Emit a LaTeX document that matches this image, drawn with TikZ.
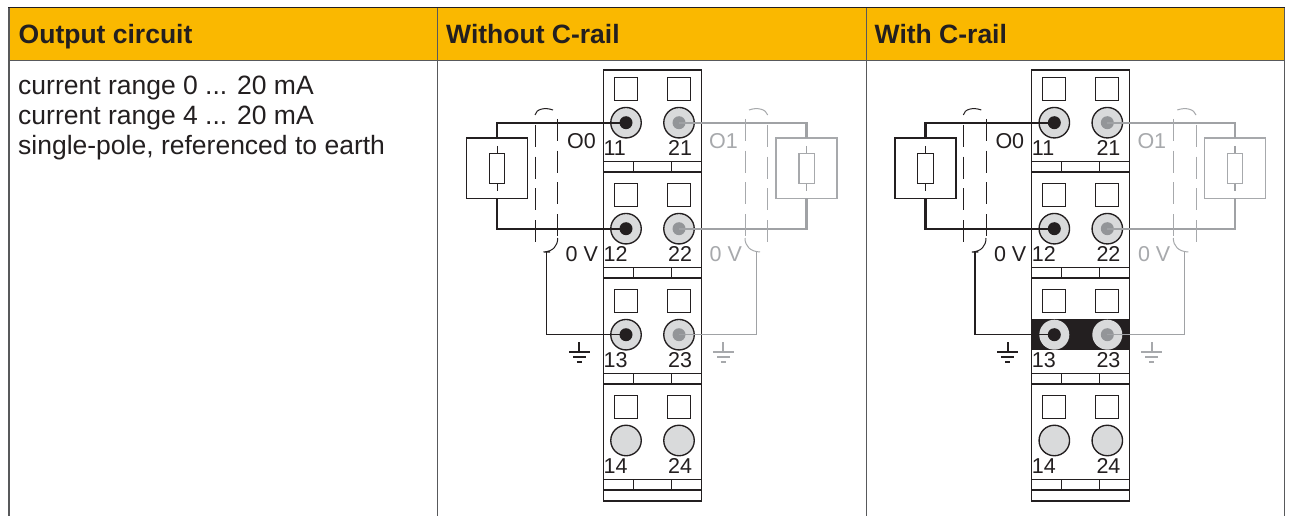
\documentclass[tikz,border=0pt]{standalone}
\usepackage{fontspec}
\setmainfont{Liberation Sans}
\definecolor{hdr}{HTML}{FAB800}
\definecolor{ink}{HTML}{231F20}
\definecolor{rule}{HTML}{58595B}
\definecolor{pale}{HTML}{A7A9AC}
\definecolor{palewire}{HTML}{A0A2A5}
\definecolor{ringc}{HTML}{D9DADB}
\definecolor{dotgrey}{HTML}{939598}
\tikzset{
  x=1pt,y=-1pt,
  tablerule/.style={draw=rule,line width=1.4pt},
  headtext/.style={anchor=base west,inner sep=0,font=\fontsize{26.5}{26.5}\selectfont\bfseries,text=ink},
  bodytext/.style={anchor=base west,inner sep=0,font=\fontsize{26.5}{26.5}\selectfont,text=ink},
  lbl/.style={inner sep=0,font=\fontsize{21.5}{21.5}\selectfont,anchor=base west,text=ink},
  lblr/.style={lbl,anchor=base east},
  lblg/.style={lbl,text=pale},
  modline/.style={draw=ink,line width=1.35pt},
  sq/.style={draw=ink,line width=1.35pt,fill=white,minimum size=23pt,inner sep=0,outer sep=0,rectangle},
  ring/.style={circle,draw=ink,line width=1.35pt,fill=ringc,minimum size=30.5pt,inner sep=0,outer sep=0},
  ringb/.style={circle,fill=ringc,minimum size=30pt,inner sep=0,outer sep=0},
  dotk/.style={circle,fill=ink,minimum size=13pt,inner sep=0,outer sep=0},
  dotg/.style={circle,fill=dotgrey,minimum size=13pt,inner sep=0,outer sep=0},
  loadbox/.style={rectangle,inner sep=0,outer sep=0,minimum width=61pt,minimum height=60.5pt,line width=1.2pt},
  resbox/.style={rectangle,inner sep=0,outer sep=0,minimum width=15.3pt,minimum height=30.4pt,line width=1.2pt},
  wirek/.style={draw=ink,line width=2.3pt},
  wireg/.style={draw=palewire,line width=2.3pt},
  think/.style={draw=ink,line width=1.2pt},
  thing/.style={draw=palewire,line width=1.2pt},
  shield/.style={line width=1pt,dash pattern=on 22pt off 9.7pt},
  hook/.style={line width=1pt},
}
% ground symbol at #1, colour #2
\newcommand{\gsym}[2]{%
  \draw[#2,line width=1.8pt] ($(#1)+(0,0)$) -- ++(0,9.4)
    ($(#1)+(-10.3,9.4)$) -- ++(20.6,0)
    ($(#1)+(-6.2,14.8)$) -- ++(12.4,0);
  \draw[#2,line width=2.2pt] ($(#1)+(-2.4,20)$) -- ++(4.8,0);}
% one wiring panel: #1 prefix, #2 x offset, #3 drawn under the terminals
\newcommand{\wiringpanel}[3]{%
\begin{scope}[shift={(#2,0)},name prefix=#1]
  \draw[modline,fill=white] (603.3,70) rectangle (701.5,501);
  \foreach \dy in {0,106,212,318}{
    \draw[modline] (603.3,161.3+\dy) rectangle (701.5,172+\dy);
    \draw[modline] (633.3,161.3+\dy) -- (633.3,172+\dy) (671.3,161.3+\dy) -- (671.3,172+\dy);
  }
  #3
  \foreach \n/\dy in {1/0,2/106,3/212,4/318}{
    \node[sq] (qa\n) at (626,89+\dy) {};
    \node[sq] (qb\n) at (679,89+\dy) {};
  }
  \ifx#1b\else
  \node[ring] (ra3) at (626,334.7) {};
  \node[ring] (rb3) at (679,334.7) {};
  \fi
  \ifx#1b
  \node[ringb] (ra3) at (626,334.7) {};
  \node[ringb] (rb3) at (679,334.7) {};
  \fi
  \node[ring] (ra1) at (626,122.7) {};
  \node[ring] (rb1) at (679,122.7) {};
  \node[ring] (ra2) at (626,228.7) {};
  \node[ring] (rb2) at (679,228.7) {};
  \node[ring] (ra4) at (626,440.5) {};
  \node[ring] (rb4) at (679,440.5) {};
  \foreach \n/\yy in {1/122.7,2/228.7,3/334.7}{
    \node[dotk] (ka\n) at (626,\yy) {};
    \node[dotg] (kb\n) at (679,\yy) {};
  }
  % numbers
  \foreach \n/\yy in {1/155.5,2/261.5,3/367.5,4/473.5}{
    \node[lbl] (na\n) at (603.4,\yy) {1\n};
    \node[lblr] (nb\n) at (692.3,\yy) {2\n};
  }
  \node[lbl] (o0) at (567,148) {O0};
  \node[lblg] (o1) at (709,148) {O1};
  \node[lbl] (v0) at (565.5,261) {0 V};
  \node[lblg] (v1) at (709.5,261) {0 V};
  % loads
  \node[loadbox,draw=ink,fill=white] (la) at (497.2,168.2) {};
  \node[resbox,draw=ink] (ra) at (497.2,168.5) {};
  \node[loadbox,draw=pale,fill=white] (lb) at (806.5,168.2) {};
  \node[resbox,draw=pale] (rb) at (806.7,168.5) {};
  \draw[think] (497.2,145.8) -- (ra.north) (ra.south) -- (497.2,190.8);
  \draw[thing] (806.7,145.8) -- (rb.north) (rb.south) -- (806.7,190.8);
  % output wires
  \draw[wirek] (la.north) |- (ka1.center);
  \draw[wirek] (la.south) |- (ka2.center);
  \draw[wireg] (lb.north) |- (kb1.center);
  \draw[wireg] (lb.south) |- (kb2.center);
  % shields
  \coordinate (sa) at (546.7,252);
  \coordinate (sb) at (756.5,252);
  \draw[shield,ink] (535,125) -- (535,243);
  \draw[shield,ink] (557.7,119) -- (557.7,236);
  \draw[hook,ink] (535,115) .. controls (536,109) and (545,107) .. (553,110);
  \draw[hook,ink] (557.7,238) .. controls (557.7,246) and (553,251.5) .. (543.5,252) (543.5,252) -- (550,252);
  \draw[shield,pale] (745,119) -- (745,236);
  \draw[shield,pale] (767.7,125) -- (767.7,243);
  \draw[hook,pale] (749,110) .. controls (757,107) and (766,109) .. (767.7,115);
  \draw[hook,pale] (745,238) .. controls (745,246) and (750,251.5) .. (760,252);
  \draw[think] (sa) |- (ka3.center);
  \draw[thing] (sb) |- (kb3.center);
  % earth
  \coordinate (ea) at (579.3,342.3);
  \coordinate (eb) at (723.3,342.3);
  \gsym{ea}{ink}
  \gsym{eb}{pale}
\end{scope}}
\usetikzlibrary{calc}
\begin{document}
\begin{tikzpicture}
\useasboundingbox (0,0) rectangle (1295,516);
\fill[white] (0,0) rectangle (1295,516);
\fill[hdr] (9,7.5) rectangle (1285,60.7);
\draw[tablerule] (9,516) -- (9,7.5);
\draw[tablerule] (1284.6,7.5) -- (1284.6,516);
\draw[tablerule] (9,60.7) -- (1285,60.7);
\draw[tablerule] (437.7,7.5) -- (437.7,516);
\draw[tablerule] (866.3,7.5) -- (866.3,516);
\draw[draw=ink,line width=1.4pt] (8.3,7.5) -- (1285.3,7.5);
\node[headtext] (h1) at (18.5,43.5) {Output circuit};
\node[headtext] (h2) at (446,43.5) {Without C-rail};
\node[headtext] (h3) at (874.5,43.5) {With C-rail};
\node[bodytext] (t1) at (18,94.7) {current range 0 ... 20 mA};
\node[bodytext] (t2) at (18,124.7) {current range 4 ... 20 mA};
\node[bodytext] (t3) at (18,154.7) {single-pole, referenced to earth};
\wiringpanel{a}{0}{}
\wiringpanel{b}{428.3}{\fill[ink] (603.3,319) rectangle (701.5,350);}
\end{tikzpicture}
\end{document}
